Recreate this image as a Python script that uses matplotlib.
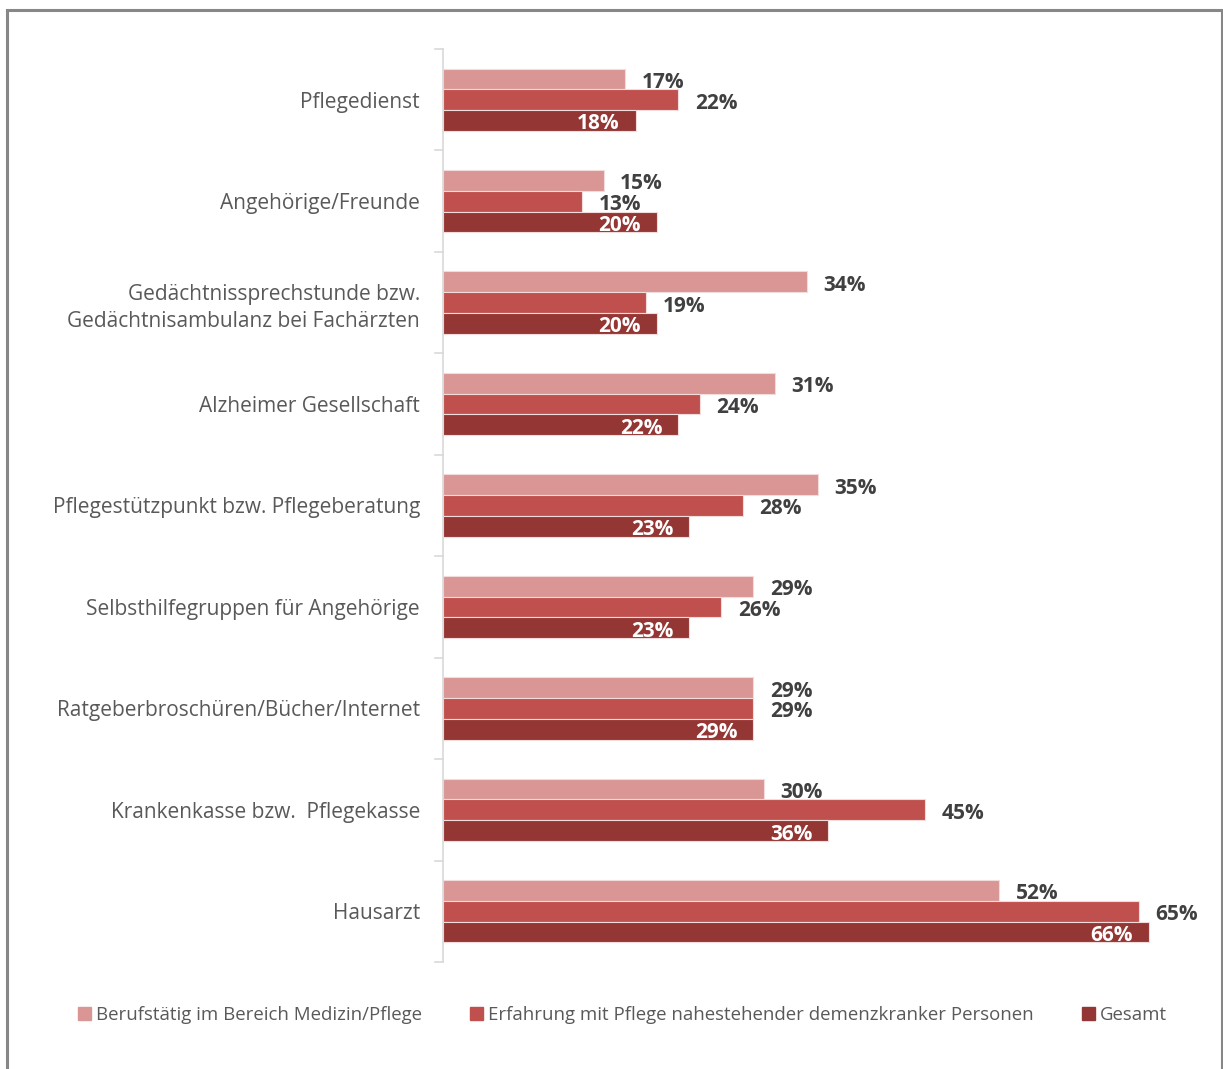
import matplotlib
matplotlib.use("Agg")
import matplotlib.pyplot as plt
from matplotlib.patches import Rectangle
import numpy as np

plt.rcParams['font.family'] = ['Open Sans', 'DejaVu Sans']

categories = [
    "Pflegedienst",
    "Angehörige/Freunde",
    "Gedächtnissprechstunde bzw.\nGedächtnisambulanz bei Fachärzten",
    "Alzheimer Gesellschaft",
    "Pflegestützpunkt bzw. Pflegeberatung",
    "Selbsthilfegruppen für Angehörige",
    "Ratgeberbroschüren/Bücher/Internet",
    "Krankenkasse bzw.  Pflegekasse",
    "Hausarzt",
]
series_names = [
    "Berufstätig im Bereich Medizin/Pflege",
    "Erfahrung mit Pflege nahestehender demenzkranker Personen",
    "Gesamt",
]
berufstaetig = [17, 15, 34, 31, 35, 29, 29, 30, 52]
erfahrung = [22, 13, 19, 24, 28, 26, 29, 45, 65]
gesamt = [18, 20, 20, 22, 23, 23, 29, 36, 66]

colors = ["#D99694", "#C0504D", "#943634"]

fig = plt.figure(figsize=(12.23, 10.69), dpi=100)
ax = fig.add_axes([443 / 1223, 107 / 1069, 749 / 1223, 913 / 1069])

y = np.arange(len(categories))
h = 0.205
offsets = [-h, 0, h]
all_series = [berufstaetig, erfahrung, gesamt]

for i, (vals, col, name) in enumerate(zip(all_series, colors, series_names)):
    bars = ax.barh(y + offsets[i], vals, height=h, color=col,
                   edgecolor="#F2DCDB", linewidth=0.8, label=name, zorder=2)
    for b, v in zip(bars, vals):
        yc = b.get_y() + b.get_height() / 2
        if i < 2:
            ax.annotate(f"{v}%", (v, yc), xytext=(12, -2.5), textcoords="offset points",
                        ha="left", va="center", fontsize=15, fontweight="bold",
                        color="#404040")
        else:
            ax.annotate(f"{v}%", (v, yc), xytext=(-11.5, -2.5), textcoords="offset points",
                        ha="right", va="center", fontsize=15, fontweight="bold",
                        color="white")

ax.set_xlim(0, 70)
ax.set_ylim(len(categories) - 0.5, -0.5)
ax.set_yticks(y)
ax.set_yticklabels(categories, fontsize=15, color="#595959", linespacing=1.35)
ax.tick_params(axis="y", length=0, pad=16.5)
ax.set_xticks([])

# group separators on the category axis
for b in np.arange(len(categories) + 1) - 0.5:
    ax.plot([-0.011, 0], [b, b], transform=ax.get_yaxis_transform(),
            color="#D9D9D9", lw=1.2, clip_on=False)

for s in ["top", "right", "bottom"]:
    ax.spines[s].set_visible(False)
ax.spines["left"].set_color("#D9D9D9")
ax.spines["left"].set_linewidth(1.2)

handles = [Rectangle((0, 0), 1, 1, color=c) for c in colors]
fig.legend(handles, series_names, loc="center", bbox_to_anchor=(0.509, 1 - 1015 / 1069),
           ncol=3, frameon=False, fontsize=13.4, labelcolor="#595959",
           handlelength=0.7, handleheight=0.7, handletextpad=0.3, columnspacing=2.55)

# outer frame
fig.add_artist(Rectangle((6.5 / 1223, -0.05), (1222 - 6.5) / 1223, 1.05 - 9.5 / 1069,
                         transform=fig.transFigure, fill=False,
                         edgecolor="#878787", linewidth=2.2, zorder=10))

fig.savefig("out.png", dpi=100, facecolor="white")
